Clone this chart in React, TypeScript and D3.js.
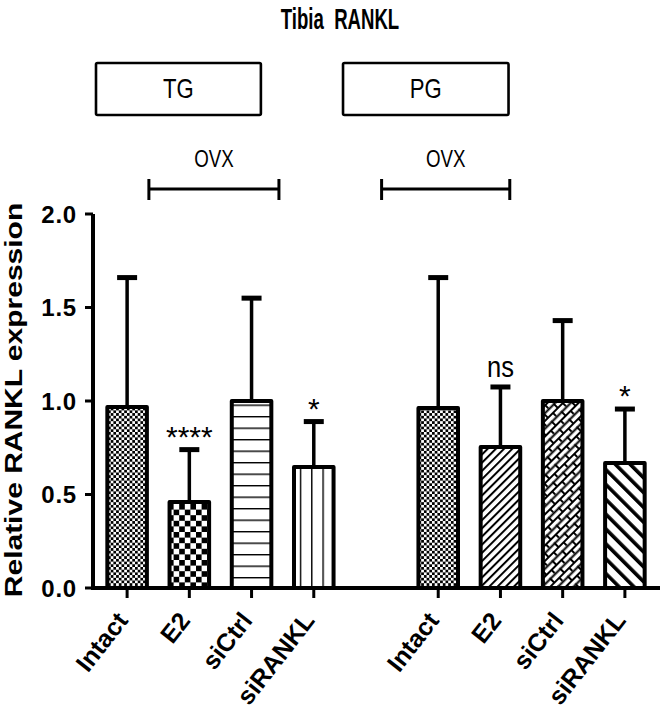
import React from "react";
import * as d3 from "d3";

const treatments = ["Intact", "E2", "siCtrl", "siRANKL"];
const tgMeans = [0.968, 0.46, 1.0, 0.647];
const tgErrTops = [1.66, 0.74, 1.55, 0.89];
const pgMeans = [0.963, 0.754, 1.0, 0.668];
const pgErrTops = [1.66, 1.075, 1.43, 0.957];
const tgSig = ["", "****", "", "*"];
const pgSig = ["", "ns", "", "*"];
const tgPatterns = ["fineChecker", "bigChecker", "hLines", "vLines"];
const pgPatterns = ["fineChecker", "diagThin", "brick", "diagThick"];
const yTicks = [0, 0.5, 1.0, 1.5, 2.0];
const yTickLabels = ["0.0", "0.5", "1.0", "1.5", "2.0"];
const title = "Tibia  RANKL";
const yTitle = "Relative RANKL expression";
const bracketLabel = "OVX";

type Bar = { key: string; group: string; label: string; mean: number; errTop: number; sig: string; pattern: string };

const bars: Bar[] = [
  ...treatments.map((t, i) => ({ key: "TG-" + t, group: "TG", label: t, mean: tgMeans[i], errTop: tgErrTops[i], sig: tgSig[i], pattern: tgPatterns[i] })),
  ...treatments.map((t, i) => ({ key: "PG-" + t, group: "PG", label: t, mean: pgMeans[i], errTop: pgErrTops[i], sig: pgSig[i], pattern: pgPatterns[i] })),
];

const domainKeys = [...bars.slice(0, 4).map((b) => b.key), "gap", ...bars.slice(4).map((b) => b.key)];

export default function App() {
  const W = 660;
  const H = 709;
  const x = d3.scaleBand<string>().domain(domainKeys).range([96, 656]).paddingInner(0.3).paddingOuter(0.15);
  const y = d3.scaleLinear().domain([0, 2]).range([588, 214]);
  const cx = (k: string) => (x(k) as number) + x.bandwidth() / 2;
  const bw = x.bandwidth();
  const step = x.step();
  const axisX0 = 93;

  const narrow = (sx: number, tx: number, ty: number) => `translate(${tx},${ty}) scale(${sx},1)`;

  const boxes = [
    { label: "TG", left: cx("TG-Intact") - 0.5 * step, right: cx("TG-siCtrl") + 0.15 * step },
    { label: "PG", left: cx("PG-Intact") - 1.53 * step, right: cx("PG-siCtrl") - 0.87 * step },
  ];
  const brackets = [
    { left: cx("TG-E2") - 0.65 * step, right: cx("TG-siRANKL") - 0.56 * step },
    { left: cx("PG-E2") - 1.91 * step, right: cx("PG-siRANKL") - 1.85 * step },
  ];

  return (
    <svg width={W} height={H} style={{ display: "block", position: "absolute", left: 0, top: 0 }} fontFamily="'Liberation Sans', Arial, sans-serif">
      <defs>
        <pattern id="fineChecker" patternUnits="userSpaceOnUse" width={5.4} height={5.4}>
          <rect width={5.4} height={5.4} fill="#fff" />
          <rect width={2.7} height={2.7} fill="#000" />
          <rect x={2.7} y={2.7} width={2.7} height={2.7} fill="#000" />
        </pattern>
        <pattern id="bigChecker" patternUnits="userSpaceOnUse" width={11.2} height={11.2}>
          <rect width={11.2} height={11.2} fill="#fff" />
          <rect width={5.6} height={5.6} fill="#000" />
          <rect x={5.6} y={5.6} width={5.6} height={5.6} fill="#000" />
        </pattern>
        <pattern id="hLines" patternUnits="userSpaceOnUse" width={10} height={11.5} y={2}>
          <rect width={10} height={11.5} fill="#fff" />
          <rect y={0} width={10} height={1.4} fill="#000" />
        </pattern>
        <pattern id="vLines" patternUnits="userSpaceOnUse" width={11.3} height={10} x={6}>
          <rect width={11.3} height={10} fill="#fff" />
          <rect x={0} width={1.4} height={10} fill="#000" />
        </pattern>
        <pattern id="diagThin" patternUnits="userSpaceOnUse" width={5.8} height={10} patternTransform="rotate(45)">
          <rect width={5.8} height={10} fill="#fff" />
          <rect width={2} height={10} fill="#000" />
        </pattern>
        <pattern id="diagThick" patternUnits="userSpaceOnUse" width={10.5} height={10} patternTransform="rotate(-45)">
          <rect width={10.5} height={10} fill="#fff" />
          <rect width={3.6} height={10} fill="#000" />
        </pattern>
        <pattern id="brick" patternUnits="userSpaceOnUse" width={14} height={11} patternTransform="rotate(-45)">
          <rect width={14} height={11} fill="#fff" />
          <rect y={0} width={14} height={2} fill="#000" />
          <rect y={5.5} width={14} height={2} fill="#000" />
          <rect x={0} y={0} width={2} height={5.5} fill="#000" />
          <rect x={7} y={5.5} width={2} height={5.5} fill="#000" />
        </pattern>
      </defs>

      {/* title */}
      <text transform={narrow(0.62, 340, 29)} textAnchor="middle" fontSize={30} fontWeight="bold" style={{ whiteSpace: "pre" }}>
        {title}
      </text>

      {/* group boxes */}
      {boxes.map((b) => (
        <g key={b.label}>
          <rect x={b.left} y={63} width={b.right - b.left} height={52} fill="none" stroke="#000" strokeWidth={2.6} rx={1.5} />
          <text transform={narrow(0.82, (b.left + b.right) / 2, 98)} textAnchor="middle" fontSize={27}>
            {b.label}
          </text>
        </g>
      ))}

      {/* OVX brackets */}
      {brackets.map((b, i) => (
        <g key={i} stroke="#000" strokeWidth={3}>
          <line x1={b.left} x2={b.right} y1={189} y2={189} />
          <line x1={b.left} x2={b.left} y1={179} y2={200} />
          <line x1={b.right} x2={b.right} y1={179} y2={200} />
          <text transform={narrow(0.78, (b.left + b.right) / 2, 167)} textAnchor="middle" fontSize={24} stroke="none" fill="#000">
            {bracketLabel}
          </text>
        </g>
      ))}

      {/* bars */}
      {bars.map((b) => {
        const c = cx(b.key);
        const x0 = (x(b.key) as number) + 2;
        const w = bw - 4;
        const top = y(b.mean);
        const et = y(b.errTop);
        return (
          <g key={b.key}>
            <line x1={c} x2={c} y1={top} y2={et} stroke="#000" strokeWidth={3.5} />
            <line x1={c - 10} x2={c + 10} y1={et} y2={et} stroke="#000" strokeWidth={5} />
            <rect x={x0} y={top} width={w} height={y(0) - top} fill={`url(#${b.pattern})`} stroke="#000" strokeWidth={4} strokeLinejoin="round" />
            {b.sig && (
              b.sig === "ns" ? (
                <text transform={narrow(0.88, c, et - 10)} textAnchor="middle" fontSize={29}>{b.sig}</text>
              ) : (
                <text x={c} y={et - 3} textAnchor="middle" fontSize={30}>{b.sig}</text>
              )
            )}
          </g>
        );
      })}

      {/* axes */}
      <line x1={axisX0} x2={W} y1={y(0)} y2={y(0)} stroke="#000" strokeWidth={4} />
      <line x1={axisX0} x2={axisX0} y1={y(2)} y2={y(0) + 2} stroke="#000" strokeWidth={4} />
      {yTicks.map((t, i) => (
        <g key={t}>
          <line x1={axisX0 - 8} x2={axisX0} y1={y(t)} y2={y(t)} stroke="#000" strokeWidth={3} />
          <text x={axisX0 - 16} y={y(t)} dy="0.36em" textAnchor="end" fontSize={24} fontWeight="bold" letterSpacing={0.8}>
            {yTickLabels[i]}
          </text>
        </g>
      ))}
      {bars.map((b) => (
        <g key={"xt" + b.key}>
          <line x1={cx(b.key)} x2={cx(b.key)} y1={y(0)} y2={y(0) + 10} stroke="#000" strokeWidth={3} />
          <text transform={`translate(${cx(b.key) + 2},${y(0) + 33}) rotate(-52)`} textAnchor="end" fontSize={25} fontWeight="bold">
            {b.label}
          </text>
        </g>
      ))}

      {/* y title */}
      <text transform={`translate(22,400) scale(0.78,1) rotate(-90)`} textAnchor="middle" fontSize={30} fontWeight="bold">
        {yTitle}
      </text>
    </svg>
  );
}
